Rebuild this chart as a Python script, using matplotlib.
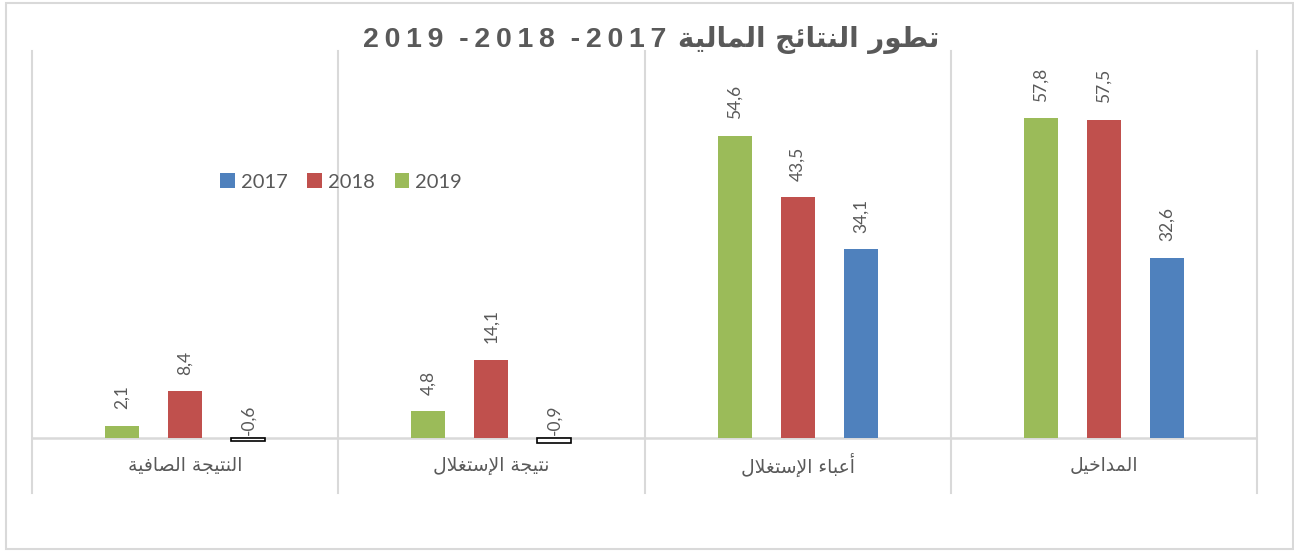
import matplotlib
matplotlib.use("Agg")
import matplotlib.pyplot as plt
from matplotlib.patches import Rectangle, Patch

# ---------------- data ----------------
categories = ['المداخيل', 'أعباء الإستغلال', 'نتيجة الإستغلال', 'النتيجة الصافية']
years = ['2017', '2018', '2019']
v2017 = [32.6, 34.1, -0.9, -0.6]
v2018 = [57.5, 43.5, 14.1, 8.4]
v2019 = [57.8, 54.6, 4.8, 2.1]
title_ar = 'تطور النتائج المالية'
title_years = '2019 -2018 -2017'

colors = ['#4F81BD', '#C0504D', '#9BBB59']

# ---------------- minimal Arabic shaping (presentation forms) ----------------
FORMS = {
    'ء': ('\uFE80', None, None, None),
    'ا': ('\uFE8D', '\uFE8E', None, None),
    'أ': ('\uFE83', '\uFE84', None, None),
    'إ': ('\uFE87', '\uFE88', None, None),
    'ب': ('\uFE8F', '\uFE90', '\uFE91', '\uFE92'),
    'ة': ('\uFE93', '\uFE94', None, None),
    'ت': ('\uFE95', '\uFE96', '\uFE97', '\uFE98'),
    'ج': ('\uFE9D', '\uFE9E', '\uFE9F', '\uFEA0'),
    'خ': ('\uFEA5', '\uFEA6', '\uFEA7', '\uFEA8'),
    'د': ('\uFEA9', '\uFEAA', None, None),
    'ر': ('\uFEAD', '\uFEAE', None, None),
    'س': ('\uFEB1', '\uFEB2', '\uFEB3', '\uFEB4'),
    'ص': ('\uFEB9', '\uFEBA', '\uFEBB', '\uFEBC'),
    'ط': ('\uFEC1', '\uFEC2', '\uFEC3', '\uFEC4'),
    'ع': ('\uFEC9', '\uFECA', '\uFECB', '\uFECC'),
    'غ': ('\uFECD', '\uFECE', '\uFECF', '\uFED0'),
    'ف': ('\uFED1', '\uFED2', '\uFED3', '\uFED4'),
    'ل': ('\uFEDD', '\uFEDE', '\uFEDF', '\uFEE0'),
    'م': ('\uFEE1', '\uFEE2', '\uFEE3', '\uFEE4'),
    'ن': ('\uFEE5', '\uFEE6', '\uFEE7', '\uFEE8'),
    'و': ('\uFEED', '\uFEEE', None, None),
    'ي': ('\uFEF1', '\uFEF2', '\uFEF3', '\uFEF4'),
    'ئ': ('\uFE89', '\uFE8A', '\uFE8B', '\uFE8C'),
}
LAMALEF = {'ا': ('\uFEFB', '\uFEFC'), 'أ': ('\uFEF7', '\uFEF8'), 'إ': ('\uFEF9', '\uFEFA')}


def joins_next(c):
    return c in FORMS and FORMS[c][2] is not None


def joins_prev(c):
    return c in FORMS and FORMS[c][1] is not None


def shape(text):
    out = []
    i = 0
    n = len(text)
    while i < n:
        c = text[i]
        prev = text[i - 1] if i > 0 else ''
        cp = joins_next(prev) and joins_prev(c)
        if c == 'ل' and i + 1 < n and text[i + 1] in LAMALEF:
            out.append(LAMALEF[text[i + 1]][1 if cp else 0])
            i += 2
            continue
        if c not in FORMS:
            out.append(c)
            i += 1
            continue
        nxt = text[i + 1] if i + 1 < n else ''
        cn = joins_next(c) and joins_prev(nxt)
        iso, fin, ini, med = FORMS[c]
        if cp and cn:
            out.append(med)
        elif cp:
            out.append(fin)
        elif cn:
            out.append(ini)
        else:
            out.append(iso)
        i += 1
    return ''.join(reversed(out))


def fmt(v):
    return f'{v:.1f}'.replace('.', ',')


def spaced(s):
    # letter spacing inside each number group
    return '  '.join('\u2009'.join(w) for w in s.split(' '))

# ---------------- figure ----------------
W, H = 1294, 551
fig = plt.figure(figsize=(W / 100, H / 100), dpi=100)
fig.patches.append(Rectangle((6 / W, 2 / H), 1 - 7 / W, 1 - 5 / H, transform=fig.transFigure,
                             fill=False, edgecolor='#d9d9d9', linewidth=1.5))

ax = fig.add_axes([32 / W, 58 / H, (1257 - 32) / W, (493 - 51) / H])
ax.set_xlim(-0.5, len(categories) - 0.5)
ax.set_ylim(-10, 70)
ax.invert_xaxis()
for s in ax.spines.values():
    s.set_visible(False)
ax.set_xticks([])
ax.set_yticks([])

bw = 0.111
off = 0.206
series = [v2017, v2018, v2019]
offsets = [-off, 0.0, off]
for vals, col, o in zip(series, colors, offsets):
    xs = [i + o for i in range(len(categories))]
    fcs = [col if v >= 0 else 'white' for v in vals]
    ecs = [col if v >= 0 else 'black' for v in vals]
    lws = [0 if v >= 0 else 1.2 for v in vals]
    ax.bar(xs, vals, width=bw, color=fcs, edgecolor=ecs, linewidth=lws, zorder=3)
    for x, v in zip(xs, vals):
        base = v if v > 0 else 0
        dy = 12 if v > 0 else 2
        ax.annotate(fmt(v), (x, base), xytext=(0, dy), textcoords='offset points',
                    rotation=90, ha='center', va='bottom', fontsize=12.5,
                    family='Lato', color='#595959', zorder=4)

# gridlines / axis line
for xb in [i - 0.5 for i in range(len(categories) + 1)]:
    ax.axvline(xb, color='#d9d9d9', linewidth=1.5, zorder=1, clip_on=False)
ax.axhline(0, color='#d9d9d9', linewidth=1.8, zorder=2)

# category labels
for i, c in enumerate(categories):
    ax.text(i, -5.0, shape(c), ha='center', va='center', fontsize=13.5,
            family='DejaVu Sans', color='#595959')

# title (two pieces: years on the left, Arabic on the right)
fig.text(666 / W, 1 - 40 / H, spaced(title_years), ha='right', va='center',
         fontsize=20.5, fontweight='bold', family=['Liberation Sans', 'DejaVu Sans'],
         color='#595959')
fig.text(678 / W, 1 - 40 / H, shape(title_ar), ha='left', va='center',
         fontsize=20, fontweight='bold', family=['DejaVu Sans'],
         color='#595959')

# legend
handles = [Patch(facecolor=c, edgecolor='none') for c in colors]
leg = fig.legend(handles, years, loc='center', bbox_to_anchor=(341 / W, 1 - 182 / H),
                 ncol=3, frameon=False, handlelength=0.7, handleheight=0.7,
                 handletextpad=0.3, columnspacing=1.0, prop={'family': 'Lato', 'size': 14.5})
for t in leg.get_texts():
    t.set_color('#595959')

fig.savefig('out.png', dpi=100)
